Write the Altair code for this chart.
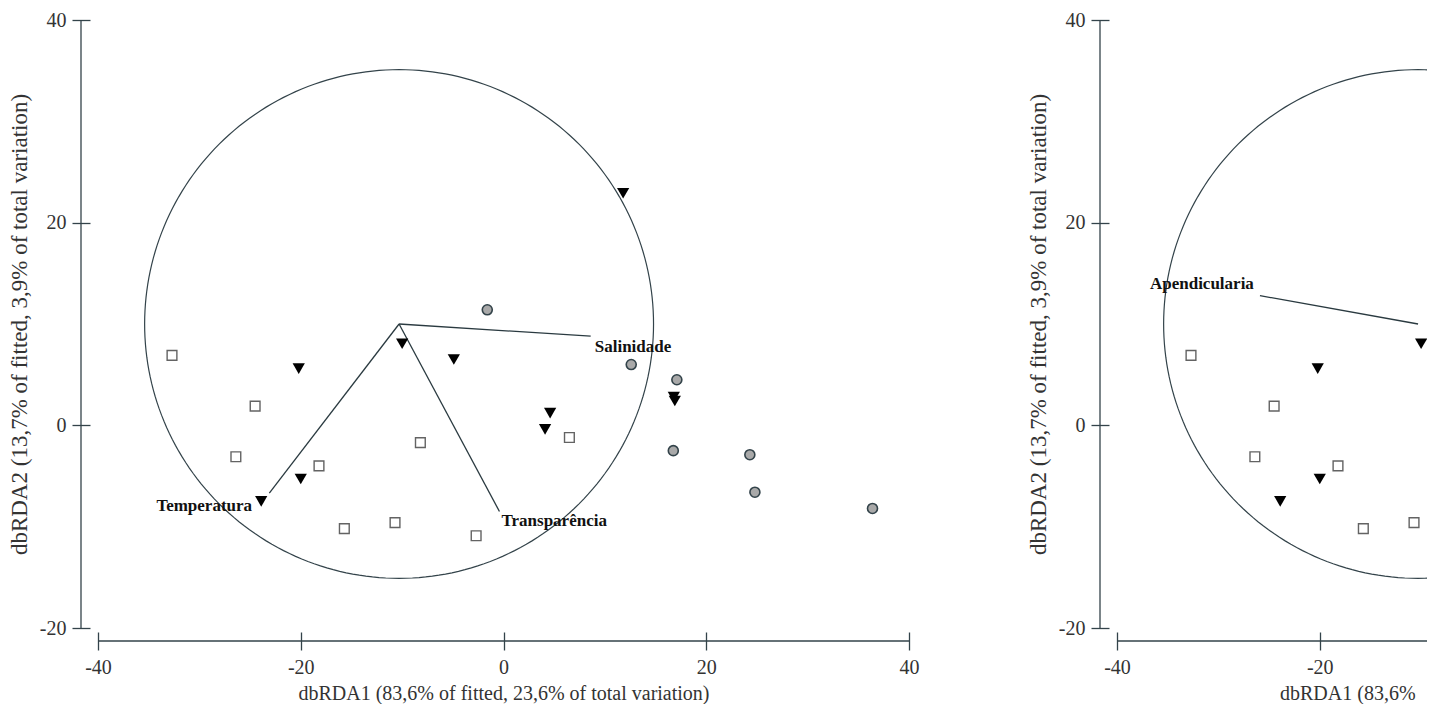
import altair as alt
import numpy as np
import pandas as pd

# ---------------- data ----------------
# sample scores on dbRDA1 / dbRDA2, three groups of samples
sq_x = [-32.7, -24.5, -26.4, -18.2, -15.7, -10.7, -8.2, -2.7, 6.5]
sq_y = [6.9, 1.9, -3.1, -4.0, -10.2, -9.6, -1.7, -10.9, -1.2]

tri_x = [11.8, -20.2, -10.0, -4.9, -20.0, -23.9, 4.6, 4.1, 16.8, 16.9]
tri_y = [22.9, 5.6, 8.05, 6.5, -5.3, -7.5, 1.2, -0.4, 2.8, 2.4]

cir_x = [-1.6, 12.6, 17.1, 16.75, 24.3, 24.8, 36.4]
cir_y = [11.4, 6.0, 4.5, -2.5, -2.9, -6.6, -8.2]

# correlation circle (centre and radius in axis units)
circle_cx = -10.3
circle_cy = 10.0
circle_r = 25.1

# vectors of the left panel (end points) and label anchors
vec_left_names = ["Salinidade", "Temperatura", "Transparência"]
vec_left_x = [8.6, -23.1, -0.4]
vec_left_y = [8.8, -6.7, -8.5]
lab_left_x = [9.0, -24.8, -0.2]
lab_left_y = [7.7, -8.0, -9.45]
lab_left_align = ["left", "right", "left"]

# vectors of the right panel (only the part inside the picture is visible)
vec_right_names = ["Apendicularia"]
vec_right_x = [-25.9]
vec_right_y = [12.8]
lab_right_x = [-26.5]
lab_right_y = [13.9]
lab_right_align = ["right"]

x_ticks = [-40, -20, 0, 20, 40]
y_ticks = [-20, 0, 20, 40]
x_title = "dbRDA1 (83,6% of fitted, 23,6% of total variation)"
y_title = "dbRDA2 (13,7% of fitted, 3,9% of total variation)"

# the right panel is cut by the edge of the picture
right_visible_max = -9.42

# ---------------- chart ----------------
PX_PER_UNIT = 811 / 80.0
H = 608
FONT = "Liberation Serif"
AX = "#33434a"
LABEL_EXPR = "'' + datum.value"


def panel(names, vx, vy, lx, ly, la, xmax, ticks, full_title):
    W = int(round((xmax - x_ticks[0]) * PX_PER_UNIT))
    xs = alt.Scale(domain=[x_ticks[0], xmax], nice=False, zero=False)
    ys = alt.Scale(domain=[-20, 40], nice=False, zero=False)
    xax = alt.Axis(values=ticks, title=x_title if full_title else None, offset=4,
                   tickSize=18, domain=False, grid=False, labelPadding=7, titlePadding=6,
                   labelFlush=False, labelFontSize=20, titleFontSize=20,
                   labelExpr=LABEL_EXPR)
    yax = alt.Axis(values=y_ticks, title=y_title, offset=8, tickSize=18, domain=False,
                   grid=False, labelPadding=6, titlePadding=8, labelFlush=False,
                   labelFontSize=20, titleFontSize=23, labelExpr=LABEL_EXPR)
    X = alt.X("x:Q", scale=xs, axis=xax)
    Y = alt.Y("y:Q", scale=ys, axis=yax)

    pts_sq = pd.DataFrame({"x": sq_x, "y": sq_y})
    pts_tri = pd.DataFrame({"x": tri_x, "y": tri_y})
    pts_cir = pd.DataFrame({"x": cir_x, "y": cir_y})
    th = np.linspace(0, 2 * np.pi, 241)
    circ = pd.DataFrame({"x": circle_cx + circle_r * np.cos(th),
                         "y": circle_cy + circle_r * np.sin(th),
                         "o": np.arange(len(th))})
    vec = pd.DataFrame({"x": [circle_cx] * len(names), "y": [circle_cy] * len(names),
                        "x2": vx, "y2": vy})
    labs = pd.DataFrame({"x": lx, "y": ly, "name": names, "align": la})
    axes = pd.DataFrame({"x": [x_ticks[0]], "x2": [xmax],
                         "y": [y_ticks[0]], "y2": [y_ticks[-1]]})

    layers = []
    layers.append(alt.Chart(circ).mark_line(color=AX, strokeWidth=1.2, clip=True).encode(
        x=X, y=Y, order="o:Q"))
    layers.append(alt.Chart(vec).mark_rule(color="#2a3a40", strokeWidth=1.3, clip=True).encode(
        x=X, y=Y, x2="x2:Q", y2="y2:Q"))
    layers.append(alt.Chart(axes).mark_rule(color=AX, strokeWidth=1.3).encode(
        x=alt.value(-17), y=Y, y2="y2:Q"))
    layers.append(alt.Chart(axes).mark_rule(color=AX, strokeWidth=1.3).encode(
        y=alt.value(H + 13), x=X, x2="x2:Q"))
    layers.append(alt.Chart(pts_sq).mark_point(shape="square", size=95, filled=False,
                                               color="#222", strokeWidth=1.4,
                                               clip=True).encode(x=X, y=Y))
    layers.append(alt.Chart(pts_tri).mark_point(shape="triangle-down", size=150, filled=True,
                                                color="#000", opacity=1,
                                                clip=True).encode(x=X, y=Y))
    layers.append(alt.Chart(pts_cir).mark_point(shape="circle", size=100, filled=True,
                                                fill="#a9a9a9", stroke=AX, strokeWidth=1.6,
                                                opacity=1, clip=True).encode(x=X, y=Y))
    for al in ["left", "right"]:
        sub = labs[labs["align"] == al]
        if len(sub):
            layers.append(alt.Chart(sub).mark_text(align=al, baseline="middle", font=FONT,
                                                   fontWeight="bold", fontSize=17,
                                                   color="#111").encode(
                x=X, y=Y, text="name:N"))
    if not full_title:
        # axis title of the cut panel: starts where the picture shows it, cut at the edge
        tdf = pd.DataFrame({"t": [x_title]})
        layers.append(alt.Chart(tdf).mark_text(
            align="left", baseline="middle", font=FONT, fontSize=20, color="#333",
            limit=W - 163, ellipsis="\u200b").encode(
            x=alt.value(163), y=alt.value(H + 66), text="t:N"))
    return alt.layer(*layers).properties(width=W, height=H)


left = panel(vec_left_names, vec_left_x, vec_left_y, lab_left_x, lab_left_y,
             lab_left_align, x_ticks[-1], x_ticks, True)
right = panel(vec_right_names, vec_right_x, vec_right_y, lab_right_x, lab_right_y,
              lab_right_align, right_visible_max, [-40, -20], False)

chart = alt.hconcat(left, right, spacing=108).properties(
    padding={"left": 0, "top": 2, "right": 0, "bottom": 0}
).configure_view(stroke=None).configure_axis(
    labelFont=FONT, titleFont=FONT, labelColor="#333", titleColor="#333",
    titleFontWeight="normal", tickColor=AX, tickWidth=1.3
)

chart.save("out.html", embed_options={"renderer": "svg", "actions": False})
